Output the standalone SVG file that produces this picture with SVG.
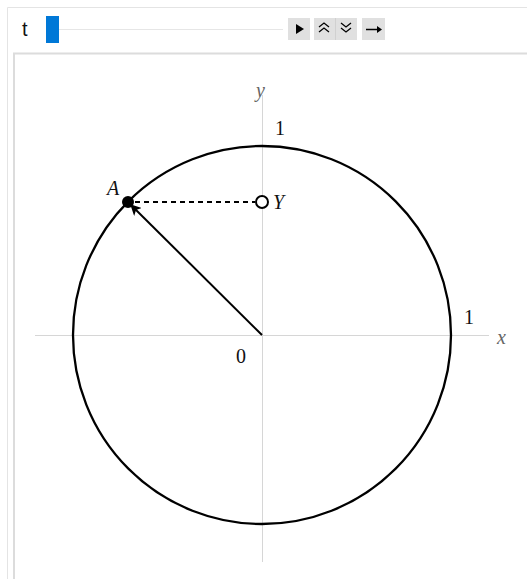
<svg xmlns="http://www.w3.org/2000/svg" width="527" height="579" viewBox="0 0 527 579">
<defs>
<style>
.frame{fill:none;stroke:#e4e4e4;stroke-width:1}
.axis{stroke:#d6d6d6;stroke-width:1}
.lbl{font-family:"Liberation Serif",serif;font-size:20px;fill:#111}
.ital{font-family:"Liberation Serif",serif;font-style:italic;font-size:20px}
.btn{fill:#e0e0e0}
</style>
<marker id="ah" viewBox="0 0 10 10" refX="9" refY="5" markerWidth="5.5" markerHeight="5.5" orient="auto" markerUnits="strokeWidth">
<path d="M0,0 L10,5 L0,10 L2.5,5 Z" fill="#000"/>
</marker>
</defs>
<rect width="527" height="579" fill="#fff"/>
<g id="controls">
<path class="frame" d="M7.5,579 V7.5 H527"/>
<text x="22" y="36" font-family="Liberation Sans,sans-serif" font-size="20" fill="#111">t</text>
<line x1="59" y1="29.5" x2="283" y2="29.5" stroke="#e6e6e6" stroke-width="1"/>
<rect x="46" y="16" width="13" height="27" fill="#0078d7"/>
<rect class="btn" x="288" y="18" width="22" height="22"/>
<path d="M296,24 L304,29 L296,34 Z" fill="#000"/>
<rect class="btn" x="314" y="18" width="43" height="22"/>
<line x1="335.5" y1="18" x2="335.5" y2="40" stroke="#d0d0d0"/>
<path d="M319,27 L324,23 L329,27 M319,32 L324,28 L329,32" fill="none" stroke="#000" stroke-width="1.3"/>
<path d="M341,23 L346,27 L351,23 M341,28 L346,32 L351,28" fill="none" stroke="#000" stroke-width="1.3"/>
<rect class="btn" x="362" y="18" width="23" height="22"/>
<path d="M366,29.5 H380" stroke="#000" stroke-width="1.5"/>
<path d="M377,26 L382,29.5 L377,33 Z" fill="#000"/>
<path d="M14,579 V53.5 H527" fill="none" stroke="#dcdcdc" stroke-width="2"/>
</g>
<g id="axes">
<line class="axis" x1="35" y1="335.5" x2="489" y2="335.5"/>
<line class="axis" x1="262.5" y1="95" x2="262.5" y2="562"/>
<text class="ital" x="497" y="344" fill="#666">x</text>
<text class="ital" x="256" y="97" fill="#666">y</text>
<text class="lbl" x="464" y="324">1</text>
<text class="lbl" x="275" y="135">1</text>
<text class="lbl" x="236" y="363">0</text>
</g>
<g id="circle">
<circle cx="262" cy="335" r="189" fill="none" stroke="#000" stroke-width="2.3"/>
</g>
<g id="connectors">
<line x1="262" y1="335" x2="131" y2="205" stroke="#000" stroke-width="2" marker-end="url(#ah)"/>
<line x1="135" y1="202" x2="255" y2="202" stroke="#000" stroke-width="2" stroke-dasharray="5,4"/>
</g>
<g id="pointA">
<circle cx="128" cy="202" r="6" fill="#000"/>
<text class="ital" x="107" y="195" fill="#111">A</text>
</g>
<g id="pointY">
<circle cx="262" cy="202" r="6" fill="#fff" stroke="#000" stroke-width="2"/>
<text class="ital" x="273" y="209" fill="#111">Y</text>
</g>
</svg>
